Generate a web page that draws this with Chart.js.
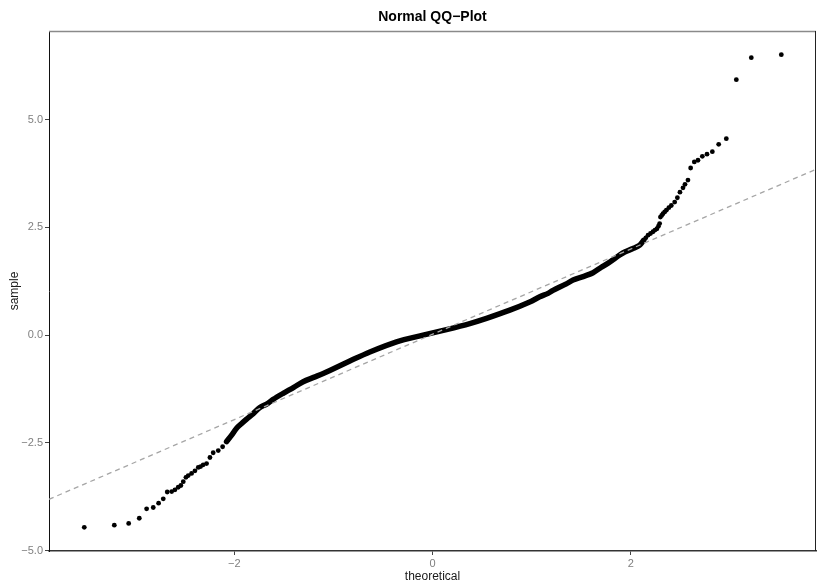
<!DOCTYPE html>
<html>
<head>
<meta charset="utf-8">
<script src="https://cdn.jsdelivr.net/npm/chart.js@4/dist/chart.umd.min.js"></script>
<style>
  html, body { margin: 0; padding: 0; background: #fff; }
  #wrap { width: 830px; height: 588px; }
</style>
</head>
<body>
<div id="wrap"><canvas id="qq" width="830" height="588"></canvas></div>
<script>
// tick values on both axes
const xTicks = [-2, 0, 2];
const yTicks = [-5, -2.5, 0, 2.5, 5];

// lower tail: separate points (theoretical, sample)
const lowTailX = [-3.514, -3.211, -3.066, -2.959, -2.885, -2.818, -2.764, -2.717, -2.677, -2.632,
  -2.599, -2.566, -2.539, -2.515, -2.488, -2.465, -2.431, -2.397, -2.364, -2.34, -2.314, -2.280,
  -2.246, -2.213, -2.162, -2.118, -2.078];
const lowTailY = [-4.46, -4.41, -4.37, -4.25, -4.03, -4.00, -3.90, -3.80, -3.64, -3.63,
  -3.59, -3.53, -3.49, -3.40, -3.30, -3.26, -3.21, -3.15, -3.07, -3.05, -3.01, -2.98,
  -2.84, -2.73, -2.68, -2.59, -2.47];

// middle: points so dense they form a band
const bodyX = [-2.078, -2.027, -1.977, -1.926, -1.876, -1.809, -1.742, -1.674, -1.608, -1.507,
  -1.40, -1.305, -1.20, -1.103, -1.036, -0.834, -0.632, -0.363, -0.095, 0.141, 0.376, 0.545,
  0.78, 0.981, 1.082, 1.166, 1.216, 1.35, 1.418, 1.52, 1.62, 1.70, 1.79, 1.889, 1.94, 2.023, 2.091, 2.131];
const bodyY = [-2.47, -2.32, -2.16, -2.05, -1.95, -1.82, -1.68, -1.60, -1.49, -1.35,
  -1.21, -1.08, -0.98, -0.89, -0.82, -0.60, -0.39, -0.155, 0.0, 0.13, 0.27, 0.39,
  0.58, 0.77, 0.89, 0.97, 1.04, 1.19, 1.28, 1.36, 1.45, 1.57, 1.70, 1.86, 1.93, 2.01, 2.09, 2.20];

// upper tail: separate points
const highTailX = [2.131, 2.153, 2.175, 2.20, 2.225, 2.245, 2.265, 2.28, 2.292, 2.30, 2.313, 2.326,
  2.343, 2.36, 2.385, 2.41, 2.444, 2.471, 2.497, 2.528, 2.548, 2.578, 2.605, 2.642, 2.679, 2.723,
  2.770, 2.824, 2.888, 2.965, 3.066, 3.217, 3.52];
const highTailY = [2.20, 2.26, 2.32, 2.36, 2.40, 2.44, 2.47, 2.53, 2.59, 2.74, 2.78, 2.82,
  2.86, 2.90, 2.96, 3.01, 3.09, 3.19, 3.32, 3.42, 3.50, 3.60, 3.88, 4.02, 4.06, 4.15,
  4.20, 4.26, 4.43, 4.56, 5.93, 6.44, 6.51];

// reference line end points
const refX = [-3.87, 3.87];
const refY = [-3.81, 3.85];

const pairs = (xs, ys) => xs.map((x, i) => ({ x: x, y: ys[i] }));

const minus = s => String(s).replace('-', '\u2212');

// box top / right, title and axis titles
const decorations = {
  id: 'decorations',
  afterDraw(chart) {
    const { ctx, chartArea: a } = chart;
    ctx.save();
    ctx.strokeStyle = '#8a8a8a';
    ctx.lineWidth = 1.5;
    ctx.beginPath();
    ctx.moveTo(a.left, a.top + 0.5);
    ctx.lineTo(a.right, a.top + 0.5);
    ctx.stroke();
    ctx.strokeStyle = '#222';
    ctx.lineWidth = 1;
    ctx.beginPath();
    ctx.moveTo(a.right - 0.5, a.top);
    ctx.lineTo(a.right - 0.5, a.bottom);
    ctx.stroke();

    const cx = (a.left + a.right) / 2;
    ctx.fillStyle = '#000';
    ctx.textAlign = 'center';
    ctx.textBaseline = 'middle';
    ctx.font = 'bold 14px "Liberation Sans", Arial, sans-serif';
    ctx.fillText('Normal QQ\u2212Plot', cx, 17);
    ctx.font = '12px "Liberation Sans", Arial, sans-serif';
    ctx.fillStyle = '#1a1a1a';
    ctx.fillText('theoretical', cx, 577);
    ctx.translate(15, (a.top + a.bottom) / 2);
    ctx.rotate(-Math.PI / 2);
    ctx.fillText('sample', 0, 0);
    ctx.restore();
  }
};

const tickFont = { family: '"Liberation Sans", Arial, sans-serif', size: 11 };

new Chart(document.getElementById('qq'), {
  type: 'scatter',
  data: {
    datasets: [
      {
        type: 'line',
        data: pairs(refX, refY),
        borderColor: '#a6a6a6',
        borderWidth: 1.3,
        borderDash: [5, 4],
        pointRadius: 0,
        fill: false
      },
      {
        data: pairs(lowTailX, lowTailY).concat(pairs(highTailX, highTailY)),
        backgroundColor: '#000',
        borderColor: '#000',
        borderWidth: 0,
        pointRadius: 2.4
      },
      {
        type: 'line',
        data: pairs(bodyX, bodyY),
        borderColor: '#000',
        borderWidth: 5.5,
        borderCapStyle: 'round',
        borderJoinStyle: 'round',
        pointRadius: 0,
        tension: 0.3,
        fill: false
      }
    ]
  },
  options: {
    responsive: false,
    animation: false,
    devicePixelRatio: 1,
    layout: { padding: { left: 0, top: 31, right: 14, bottom: 0 } },
    plugins: { legend: { display: false }, title: { display: false }, tooltip: { enabled: false } },
    scales: {
      x: {
        type: 'linear',
        min: -3.87,
        max: 3.87,
        afterFit(scale) { scale.height = 37; },
        afterBuildTicks(scale) { scale.ticks = xTicks.map(v => ({ value: v })); },
        grid: { display: true, drawOnChartArea: false, drawTicks: true, tickLength: 4, color: '#444', lineWidth: 1 },
        border: { display: true, color: '#333', width: 1.5 },
        ticks: { color: '#7f7f7f', font: tickFont, padding: 2, maxRotation: 0, callback: v => minus(v) }
      },
      y: {
        type: 'linear',
        min: -5.01,
        max: 7.06,
        afterFit(scale) { scale.width = 49; },
        afterBuildTicks(scale) { scale.ticks = yTicks.map(v => ({ value: v })); },
        grid: { display: true, drawOnChartArea: false, drawTicks: true, tickLength: 4, color: '#444', lineWidth: 1 },
        border: { display: true, color: '#111', width: 1 },
        ticks: { color: '#7f7f7f', font: tickFont, padding: 2, callback: v => minus(Number(v).toFixed(1)) }
      }
    }
  },
  plugins: [decorations]
});
</script>
</body>
</html>
